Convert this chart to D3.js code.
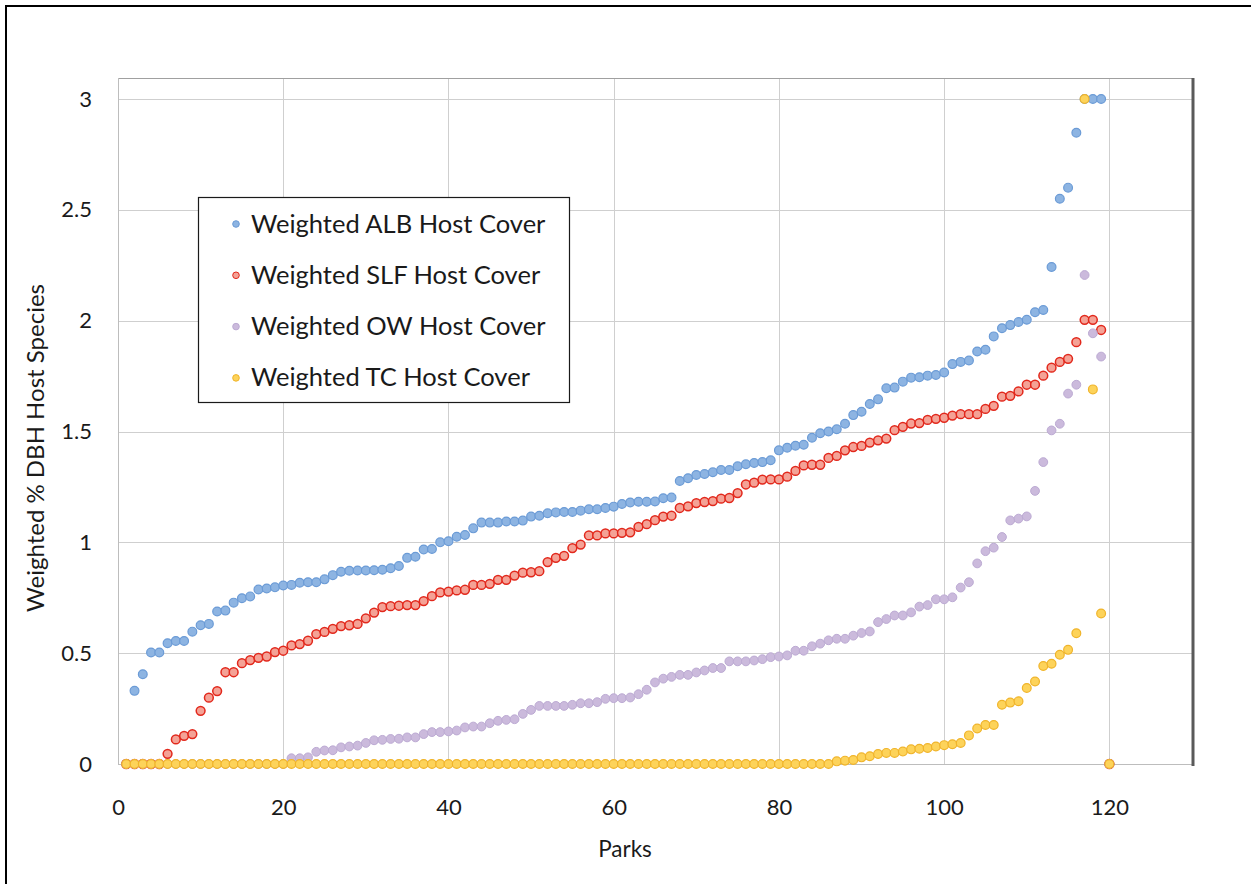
<!DOCTYPE html>
<html>
<head>
<meta charset="utf-8">
<script src="https://cdn.jsdelivr.net/npm/d3@7"></script>
<style>
  body { margin: 0; background: #fff; }
  text { font-family: Lato, "Open Sans", sans-serif; fill: #1a1a1a; }
</style>
</head>
<body>
<div id="chart"></div>
<script>
/*
 * Data: one value per park (1..120)
 */

const alb = [
  0, 0.33, 0.405, 0.503, 0.503, 0.545, 0.555, 0.555, 0.597, 0.626,
  0.632, 0.688, 0.692, 0.728, 0.748, 0.756, 0.787, 0.792, 0.797, 0.805,
  0.808, 0.818, 0.82, 0.82, 0.833, 0.852, 0.867, 0.872, 0.873, 0.873,
  0.874, 0.876, 0.883, 0.893, 0.93, 0.935, 0.968, 0.97, 1.0, 1.005,
  1.025, 1.033, 1.063, 1.089, 1.089, 1.089, 1.094, 1.094, 1.098, 1.116,
  1.12, 1.131, 1.135, 1.137, 1.137, 1.143, 1.149, 1.149, 1.155, 1.161,
  1.173, 1.18, 1.183, 1.183, 1.184, 1.199, 1.202, 1.277, 1.289, 1.304,
  1.308, 1.316, 1.326, 1.326, 1.343, 1.352, 1.358, 1.362, 1.37, 1.415,
  1.427, 1.436, 1.44, 1.472, 1.492, 1.5, 1.51, 1.535, 1.574, 1.589,
  1.624, 1.645, 1.695, 1.698, 1.725, 1.743, 1.745, 1.752, 1.755, 1.766,
  1.804, 1.814, 1.82, 1.861, 1.869, 1.929, 1.966, 1.98, 1.994, 2.004,
  2.038, 2.048, 2.242, 2.55, 2.6, 2.848, 3.0, 3.0, 3.0, 0
]

const slf = [
  0, 0, 0, 0, 0, 0.046, 0.111, 0.127, 0.135, 0.24,
  0.299, 0.329, 0.414, 0.414, 0.455, 0.469, 0.479, 0.485, 0.505, 0.511,
  0.535, 0.541, 0.556, 0.586, 0.596, 0.61, 0.622, 0.626, 0.632, 0.657,
  0.683, 0.708, 0.712, 0.714, 0.717, 0.717, 0.735, 0.757, 0.774, 0.778,
  0.783, 0.786, 0.808, 0.808, 0.813, 0.831, 0.831, 0.85, 0.863, 0.865,
  0.87, 0.911, 0.93, 0.939, 0.974, 0.99, 1.031, 1.031, 1.04, 1.04,
  1.043, 1.045, 1.07, 1.082, 1.1, 1.116, 1.12, 1.155, 1.162, 1.177,
  1.182, 1.186, 1.197, 1.2, 1.222, 1.261, 1.269, 1.283, 1.284, 1.284,
  1.296, 1.322, 1.347, 1.35, 1.35, 1.381, 1.39, 1.415, 1.43, 1.435,
  1.45, 1.46, 1.468, 1.506, 1.521, 1.536, 1.538, 1.552, 1.557, 1.562,
  1.572, 1.578, 1.578, 1.578, 1.602, 1.616, 1.657, 1.661, 1.681, 1.711,
  1.711, 1.752, 1.788, 1.814, 1.828, 1.903, 2.004, 2.004, 1.958, 0
]

const ow = [
  0, 0, 0, 0, 0, 0, 0, 0, 0, 0,
  0, 0, 0, 0, 0, 0, 0, 0, 0, 0,
  0.026, 0.026, 0.03, 0.055, 0.061, 0.062, 0.075, 0.079, 0.083, 0.095,
  0.107, 0.109, 0.113, 0.114, 0.12, 0.12, 0.135, 0.144, 0.144, 0.147,
  0.151, 0.165, 0.169, 0.169, 0.184, 0.195, 0.199, 0.202, 0.226, 0.244,
  0.262, 0.262, 0.262, 0.262, 0.267, 0.274, 0.274, 0.279, 0.294, 0.297,
  0.297, 0.3, 0.315, 0.335, 0.368, 0.385, 0.393, 0.402, 0.402, 0.413,
  0.422, 0.433, 0.433, 0.463, 0.463, 0.463, 0.467, 0.473, 0.482, 0.485,
  0.49, 0.511, 0.511, 0.531, 0.543, 0.558, 0.565, 0.565, 0.579, 0.591,
  0.598, 0.64, 0.654, 0.67, 0.67, 0.684, 0.71, 0.717, 0.743, 0.743,
  0.752, 0.796, 0.82, 0.905, 0.96, 0.976, 1.024, 1.099, 1.107, 1.117,
  1.232, 1.362, 1.505, 1.535, 1.671, 1.711, 2.206, 1.943, 1.838, 0
]

const tc = [
  0, 0, 0, 0, 0, 0, 0, 0, 0, 0,
  0, 0, 0, 0, 0, 0, 0, 0, 0, 0,
  0, 0, 0, 0, 0, 0, 0, 0, 0, 0,
  0, 0, 0, 0, 0, 0, 0, 0, 0, 0,
  0, 0, 0, 0, 0, 0, 0, 0, 0, 0,
  0, 0, 0, 0, 0, 0, 0, 0, 0, 0,
  0, 0, 0, 0, 0, 0, 0, 0, 0, 0,
  0, 0, 0, 0, 0, 0, 0, 0, 0, 0,
  0, 0, 0, 0, 0, 0, 0.012, 0.015, 0.018, 0.03,
  0.035, 0.045, 0.05, 0.05, 0.056, 0.066, 0.069, 0.072, 0.079, 0.085,
  0.089, 0.095, 0.129, 0.16, 0.176, 0.176, 0.267, 0.277, 0.283, 0.343,
  0.372, 0.442, 0.452, 0.493, 0.515, 0.59, 3.0, 1.69, 0.679, 0
]

const seriesNames = [
  'Weighted ALB Host Cover',
  'Weighted SLF Host Cover',
  'Weighted OW Host Cover',
  'Weighted TC Host Cover'
]

const xTicks = [0, 20, 40, 60, 80, 100, 120]
const yTicks = [0, 0.5, 1, 1.5, 2, 2.5, 3]

/*
 * Setup
 */

const w = 1251
const h = 884

const series = [
  { name: seriesNames[0], values: alb, fill: '#8db4e2', stroke: '#6b9bd6', sw: 1.2 },
  { name: seriesNames[1], values: slf, fill: '#f4a296', stroke: '#e2281c', sw: 1.5 },
  { name: seriesNames[2], values: ow, fill: '#cbbadc', stroke: '#bcaad3', sw: 1 },
  { name: seriesNames[3], values: tc, fill: '#fdd35a', stroke: '#f0b42a', sw: 1.2 }
]

const plot = { left: 118, right: 1192, top: 78, bottom: 764 }

const x = d3.scaleLinear().domain([0, 130]).range([plot.left, plot.right])
const y = d3.scaleLinear().domain([0, 3]).range([plot.bottom, 99])

const svg = d3.select('#chart')
  .append('svg')
  .attr('width', w)
  .attr('height', h)

// outer chart border (runs off the bottom/right of the image)
svg.append('rect')
  .attr('x', 6)
  .attr('y', 6)
  .attr('width', 1400)
  .attr('height', 1000)
  .attr('fill', '#fff')
  .attr('stroke', '#000')
  .attr('stroke-width', 2)

// grid
svg.append('g')
  .selectAll('line')
  .data(yTicks.filter(d => d > 0))
  .enter()
  .append('line')
  .attr('x1', plot.left)
  .attr('x2', plot.right)
  .attr('y1', d => Math.round(y(d)) + 0.5)
  .attr('y2', d => Math.round(y(d)) + 0.5)
  .style('stroke', '#cfcfcf')

svg.append('g')
  .selectAll('line')
  .data(xTicks.filter(d => d > 0))
  .enter()
  .append('line')
  .attr('x1', d => Math.round(x(d)) + 0.5)
  .attr('x2', d => Math.round(x(d)) + 0.5)
  .attr('y1', plot.top)
  .attr('y2', plot.bottom)
  .style('stroke', '#cfcfcf')

// plot frame
svg.append('line')
  .attr('x1', plot.left).attr('x2', plot.right)
  .attr('y1', plot.top + 0.5).attr('y2', plot.top + 0.5)
  .style('stroke', '#a0a0a0')
svg.append('line')
  .attr('x1', plot.left + 0.5).attr('x2', plot.left + 0.5)
  .attr('y1', plot.top).attr('y2', plot.bottom)
  .style('stroke', '#bdbdbd')
svg.append('line')
  .attr('x1', plot.left).attr('x2', plot.right)
  .attr('y1', plot.bottom + 0.5).attr('y2', plot.bottom + 0.5)
  .style('stroke', '#bdbdbd')
svg.append('line')
  .attr('x1', plot.right + 1).attr('x2', plot.right + 1)
  .attr('y1', plot.top).attr('y2', plot.bottom + 2)
  .style('stroke', '#5a5a5a')
  .style('stroke-width', 3)

// axes (labels only, Excel-like)
const xAxis = svg.append('g')
  .attr('transform', `translate(0,${plot.bottom})`)
  .call(d3.axisBottom(x).tickValues(xTicks).tickSize(0).tickPadding(35))
xAxis.select('.domain').remove()
xAxis.selectAll('text')
  .style('font-size', '22px')
  .attr('fill', '#1a1a1a')

const yAxis = svg.append('g')
  .attr('transform', `translate(${plot.left},0)`)
  .call(d3.axisLeft(y).tickValues(yTicks).tickFormat(d3.format('')).tickSize(0).tickPadding(26))
yAxis.select('.domain').remove()
yAxis.selectAll('text')
  .style('font-size', '22px')
  .attr('fill', '#1a1a1a')

svg.append('text')
  .attr('x', 625)
  .attr('y', 857)
  .attr('text-anchor', 'middle')
  .style('font-size', '22.5px')
  .text('Parks')

svg.append('text')
  .attr('transform', 'translate(44,448) rotate(-90)')
  .attr('text-anchor', 'middle')
  .style('font-size', '24px')
  .text('Weighted % DBH Host Species')

// points
series.forEach(s => {
  svg.append('g')
    .selectAll('circle')
    .data(s.values)
    .enter()
    .append('circle')
    .attr('cx', (d, i) => x(i + 1))
    .attr('cy', d => y(d))
    .attr('r', 4.4)
    .style('fill', s.fill)
    .style('stroke', s.stroke)
    .style('stroke-width', s.sw)
})

// legend
const legend = svg.append('g')

legend.append('rect')
  .attr('x', 198.5)
  .attr('y', 197.5)
  .attr('width', 371)
  .attr('height', 205)
  .attr('fill', '#fff')
  .attr('stroke', '#1a1a1a')
  .attr('stroke-width', 1.2)

const rows = legend.selectAll('g.row')
  .data(series)
  .enter()
  .append('g')
  .attr('class', 'row')
  .attr('transform', (d, i) => `translate(0,${224 + i * 51.3})`)

rows.append('circle')
  .attr('cx', 236)
  .attr('cy', 0)
  .attr('r', 3.3)
  .style('fill', d => d.fill)
  .style('stroke', d => d.stroke)
  .style('stroke-width', 1)

rows.append('text')
  .attr('x', 251)
  .attr('y', 8.5)
  .style('font-size', '25.5px')
  .text(d => d.name)
</script>
</body>
</html>
